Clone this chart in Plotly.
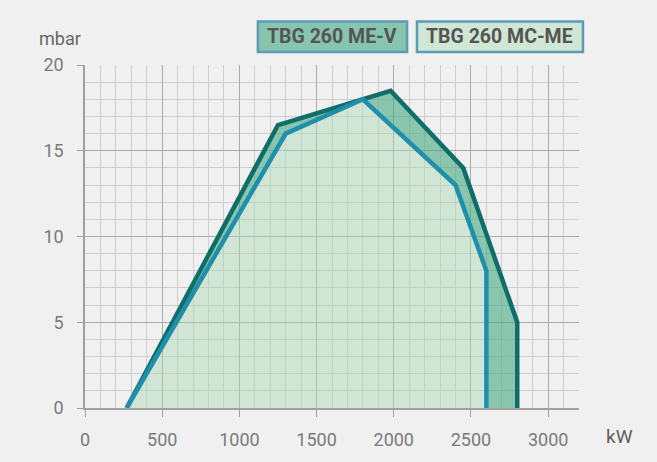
import plotly.graph_objects as go

# ---- data ----
mev_kw = [270, 1250, 1980, 2450, 2800, 2800]
mev_mbar = [0, 16.5, 18.5, 14, 5, 0]
mcme_kw = [270, 1300, 1800, 2400, 2600, 2600]
mcme_mbar = [0, 16, 18, 13, 8, 0]
series_names = ["TBG 260 ME-V", "TBG 260 MC-ME"]
x_ticks = [0, 500, 1000, 1500, 2000, 2500, 3000]
y_ticks = [0, 5, 10, 15, 20]

DARK = "#106e69"
BLUE = "#1f8fab"
FONT = "Roboto, 'Open Sans', sans-serif"

fig = go.Figure()

# band between the two curves (ME-V only region)
band_x = mev_kw + mcme_kw[::-1]
band_y = mev_mbar + mcme_mbar[::-1]
fig.add_trace(go.Scatter(x=band_x, y=band_y, mode="lines", fill="toself",
                         fillcolor="rgba(70,168,130,0.6)", line=dict(width=0),
                         hoverinfo="skip", showlegend=False))
# MC-ME area
fig.add_trace(go.Scatter(x=mcme_kw, y=mcme_mbar, mode="lines", fill="toself",
                         fillcolor="rgba(170,216,178,0.45)", line=dict(width=0),
                         hoverinfo="skip", showlegend=False))
# lines
fig.add_trace(go.Scatter(x=mev_kw, y=mev_mbar, mode="lines", name=series_names[0],
                         line=dict(color=DARK, width=4.5), showlegend=False))
fig.add_trace(go.Scatter(x=mcme_kw, y=mcme_mbar, mode="lines", name=series_names[1],
                         line=dict(color=BLUE, width=4.5), showlegend=False))

fig.update_layout(
    width=657, height=462,
    margin=dict(l=85, r=78, t=65, b=48),
    paper_bgcolor="#f0f0f0", plot_bgcolor="#f0f0f0",
    font=dict(family=FONT, color="#7a7a7a", size=18),
    xaxis=dict(range=[0, 3200], tickvals=x_ticks, ticktext=[str(v) for v in x_ticks],
               showgrid=True, gridcolor="#ababab", gridwidth=1,
               minor=dict(dtick=100, tick0=0, showgrid=True, gridcolor="#cfcfcf", gridwidth=1),
               showline=True, linecolor="#a0a0a0", linewidth=1.5,
               ticks="outside", ticklen=7, tickcolor="#a0a0a0", tickwidth=1.2,
               ticklabelstandoff=8, zeroline=False, fixedrange=True),
    yaxis=dict(range=[0, 20], tickvals=y_ticks, ticktext=[str(v) for v in y_ticks],
               showgrid=True, gridcolor="#ababab", gridwidth=1,
               minor=dict(dtick=1, tick0=0, showgrid=True, gridcolor="#cfcfcf", gridwidth=1),
               showline=True, linecolor="#a0a0a0", linewidth=1.5,
               ticks="outside", ticklen=6, tickcolor="#a0a0a0", tickwidth=1.2,
               ticklabelstandoff=10, zeroline=False, fixedrange=True),
    showlegend=False,
)

# legend boxes
legend_boxes = [
    dict(x0=0.350, x1=0.652, fill="#88c5ae"),
    dict(x0=0.672, x1=1.008, fill="#cfe7d4"),
]
for b in legend_boxes:
    fig.add_shape(type="rect", xref="paper", yref="paper", x0=b["x0"], x1=b["x1"],
                  y0=1.0376, y1=1.127, fillcolor=b["fill"],
                  line=dict(color="#5b9cb6", width=2.5), layer="above")

annotations = [
    dict(text="<b>" + series_names[0] + "</b>", x=0.501, y=1.0824, xref="paper", yref="paper",
         xanchor="center", yanchor="middle",
         showarrow=False, font=dict(size=19.5, color="#555555", family=FONT)),
    dict(text="<b>" + series_names[1] + "</b>", x=0.840, y=1.0824, xref="paper", yref="paper",
         xanchor="center", yanchor="middle",
         showarrow=False, font=dict(size=19.5, color="#555555", family=FONT)),
    dict(text="mbar", x=-0.0506, y=1.078, xref="paper", yref="paper", showarrow=False,
         xanchor="center", yanchor="middle",
         font=dict(size=18, color="#666666", family=FONT)),
    dict(text="kW", x=1.081, y=-0.084, xref="paper", yref="paper", showarrow=False,
         xanchor="center", yanchor="middle",
         font=dict(size=19, color="#5f5f5f", family=FONT)),
]
fig.update_layout(annotations=annotations)

fig.write_html("out.html", config={"displayModeBar": False},
               post_script="document.body.style.margin='0';")
